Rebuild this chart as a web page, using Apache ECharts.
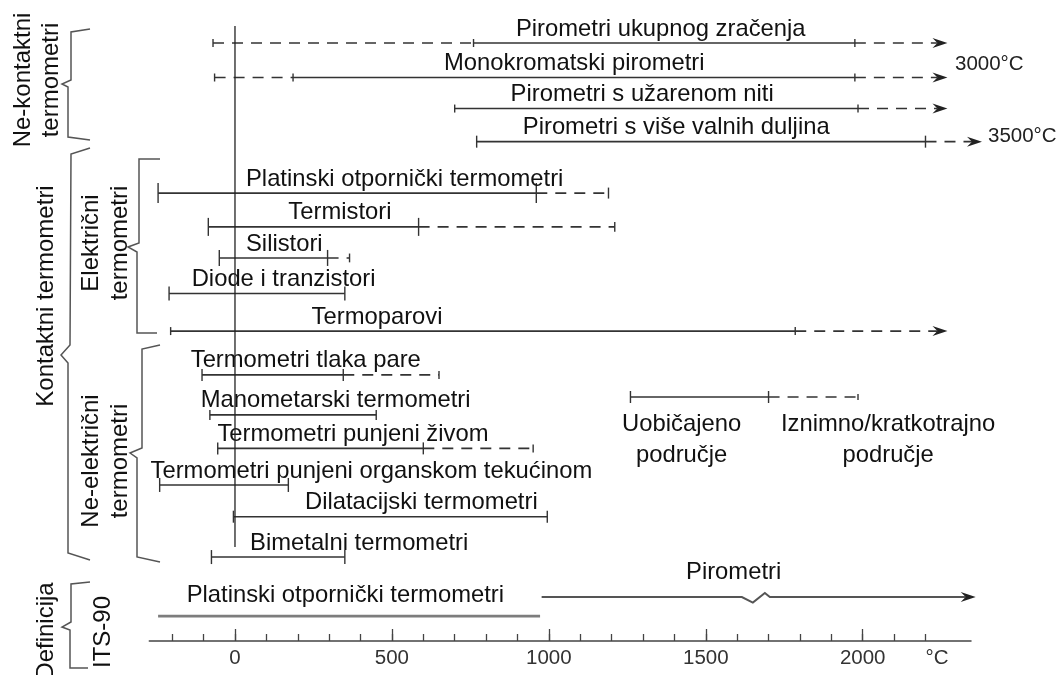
<!DOCTYPE html>
<html><head><meta charset="utf-8">
<script src="https://cdn.jsdelivr.net/npm/echarts@6/dist/echarts.min.js"></script>
<style>html,body{margin:0;padding:0;background:#fff}#c{width:1061px;height:675px}</style>
</head><body><div id="c"></div><script>
// ---------------- data ----------------
const rowNames = [
  'Pirometri ukupnog zračenja',
  'Monokromatski pirometri',
  'Pirometri s užarenom niti',
  'Pirometri s više valnih duljina',
  'Platinski otpornički termometri',
  'Termistori',
  'Silistori',
  'Diode i tranzistori',
  'Termoparovi',
  'Termometri tlaka pare',
  'Manometarski termometri',
  'Termometri punjeni živom',
  'Termometri punjeni organskom tekućinom',
  'Dilatacijski termometri',
  'Bimetalni termometri'
];
// usual range (°C)
const normalMin = [760, 185, 700, 770, -245, -85, -50, -210, -205, -105, -80, -55, -240, -5, -75];
const normalMax = [1975, 1975, 1985, 2200, 960, 585, 295, 350, 1785, 345, 450, 600, 170, 995, 350];
// exceptional / short-term range (°C), null = none
const exceptMin = [-70, -65, null, null, null, null, null, null, null, null, null, null, null, null, null];
const exceptMax = [2270, 2270, 2270, 2380, 1190, 1210, 365, null, 2270, 650, null, 950, null, null, null];
const openEnd   = [true, true, true, true, false, false, false, false, true, false, false, false, false, false, false];
const openEndLabels = ['3000°C', '3500°C'];

// legend sample (°C)
const legendRange = [1260, 1700, 1985];
const legendTexts = ['Uobičajeno\npodručje', 'Iznimno/kratkotrajno\npodručje'];

// ITS-90 definition
const itsNames = ['Platinski otpornički termometri', 'Pirometri'];
const itsPtRange = [-245, 972];
const itsPyroRange = [977, 2360];

// axis
const minorTicks = [-200,-100,0,100,200,300,400,500,600,700,800,900,1000,1100,1200,1300,1400,1500,1600,1700,1800,1900,2000,2100,2200];
const majorTicks = [0, 500, 1000, 1500, 2000];
const unitLabelAt = 2237;
const unitLabel = '°C';

// ---------------- layout (row slots, label anchors) ----------------
const rowPos   = [0, 1.0, 1.9, 2.86, 4.35, 5.33, 6.23, 7.26, 8.35, 9.62, 10.78, 11.75, 12.81, 13.73, 14.9];
const labelX   = [895, 666, 878, 917, 35, 170, 35, -138, 244, -141, -109, -56, -269, 223, 48];
const tickHalf = [4, 4, 4, 6, 10, 9, 8, 7, 4, 6, 5, 6, 7, 6, 7];
const legendPos = 10.26;
const legendTextX = [1423, 2081];
const itsPos = [16.61, 16.06];
const itsLabelX = [-154, 1437];
const zeroLine = [-0.49, 14.61];

const FONT = "'Liberation Sans', Arial, Helvetica, sans-serif";
const LINE = '#333';
const FS = 23.8;

function seg(p1, p2, dashed, color, w) {
  return {type: 'line', shape: {x1: p1[0], y1: p1[1], x2: p2[0], y2: p2[1]},
    style: {stroke: color || LINE, lineWidth: w || 1.6, lineDash: dashed ? [11, 8] : null}};
}
function tick(p, h) {
  return {type: 'line', shape: {x1: p[0], y1: p[1] - h, x2: p[0], y2: p[1] + h},
    style: {stroke: LINE, lineWidth: 1.4}};
}
function arrowHead(p, color) {
  return {type: 'polygon', shape: {points: [[p[0], p[1]], [p[0] - 15, p[1] - 5], [p[0] - 10, p[1]], [p[0] - 15, p[1] + 5]]},
    style: {fill: color || '#222'}};
}
function label(p, text, dy) {
  return {type: 'text', x: p[0], y: p[1] + dy,
    style: {text: text, fill: '#111', font: FS + 'px ' + FONT, align: 'left', verticalAlign: 'bottom'}};
}

const chart = echarts.init(document.getElementById('c'), null, {renderer: 'canvas'});

const option = {
  animation: false,
  backgroundColor: '#fff',
  grid: {left: 149.3, right: 90, top: 8.5, bottom: 34, containLabel: false, outerBoundsMode: 'none'},
  xAxis: [{
    type: 'value', min: -273, max: 2345, position: 'bottom',
    axisLine: {show: true, onZero: false, lineStyle: {color: '#444', width: 1.5}},
    axisTick: {show: true, inside: true, length: 7, customValues: minorTicks, lineStyle: {color: '#444', width: 1.3}},
    axisLabel: {show: true, customValues: majorTicks.concat([unitLabelAt]), margin: 7,
      formatter: v => (v === unitLabelAt ? unitLabel : String(v)),
      fontSize: 20.5, fontFamily: FONT, color: '#333'},
    splitLine: {show: false}
  }, {
    type: 'value', min: -273, max: 2345, position: 'bottom', offset: 0,
    axisLine: {show: false, onZero: false},
    axisTick: {show: true, inside: true, length: 12, customValues: majorTicks, lineStyle: {color: '#444', width: 1.3}},
    axisLabel: {show: false},
    splitLine: {show: false}
  }],
  yAxis: {type: 'value', inverse: true, min: -1, max: 17.333, show: false},
  series: [
    {
      type: 'line', xAxisIndex: 0, symbol: 'none', silent: true,
      data: [[0, zeroLine[0]], [0, zeroLine[1]]],
      lineStyle: {color: '#222', width: 1.3}
    },
    {
      type: 'custom', xAxisIndex: 0, clip: false, silent: true,
      data: rowNames.map((n, i) => [normalMin[i], rowPos[i], i]),
      renderItem: function (params, api) {
        const i = api.value(2);
        const y = rowPos[i];
        const c = v => api.coord([v, y]);
        const h = tickHalf[i];
        const ch = [];
        if (exceptMin[i] != null) {
          ch.push(seg(c(exceptMin[i]), c(normalMin[i]), true));
          ch.push(tick(c(exceptMin[i]), h));
        }
        ch.push(seg(c(normalMin[i]), c(normalMax[i]), false));
        ch.push(tick(c(normalMin[i]), h));
        ch.push(tick(c(normalMax[i]), h));
        if (exceptMax[i] != null) {
          const e = c(exceptMax[i]);
          if (openEnd[i]) {
            ch.push(seg(c(normalMax[i]), [e[0] - 10, e[1]], true));
            ch.push(arrowHead(e));
          } else {
            ch.push(seg(c(normalMax[i]), e, true));
            ch.push(tick(e, Math.max(4, h * 0.55)));
          }
        }
        ch.push(label(c(labelX[i]), rowNames[i], -2));
        return {type: 'group', children: ch};
      }
    },
    {
      // legend sample
      type: 'custom', xAxisIndex: 0, clip: false, silent: true,
      data: [[legendRange[0], legendPos]],
      renderItem: function (params, api) {
        const c = v => api.coord([v, legendPos]);
        const ch = [
          seg(c(legendRange[0]), c(legendRange[1]), false),
          tick(c(legendRange[0]), 6), tick(c(legendRange[1]), 6),
          seg(c(legendRange[1]), c(legendRange[2]), true),
          tick(c(legendRange[2]), 3)
        ];
        legendTexts.forEach((t, k) => {
          const p = c(legendTextX[k]);
          ch.push({type: 'text', x: p[0], y: p[1] + 12,
            style: {text: t, fill: '#111', font: FS + 'px ' + FONT, align: 'center', verticalAlign: 'top', lineHeight: 31}});
        });
        return {type: 'group', children: ch};
      }
    },
    {
      // ITS-90
      type: 'custom', xAxisIndex: 0, clip: false, silent: true,
      data: [[itsPtRange[0], itsPos[0]]],
      renderItem: function (params, api) {
        const a = itsPtRange.map(v => api.coord([v, itsPos[0]]));
        const py = itsPyroRange.map(v => api.coord([v, itsPos[1]]));
        const y = py[0][1];
        const bx = api.coord([1650, itsPos[1]])[0];
        const ch = [
          seg(a[0], a[1], false, '#7d7d7d', 2.8),
          {type: 'polyline', shape: {points: [py[0], [bx - 11, y], [bx, y + 5.5], [bx + 12, y - 4], [bx + 17, y], [py[1][0] - 10, y]]},
            style: {stroke: '#555', lineWidth: 2, fill: null}},
          arrowHead(py[1], '#222'),
          label([api.coord([itsLabelX[0], itsPos[0]])[0], a[0][1]], itsNames[0], -9),
          label([api.coord([itsLabelX[1], itsPos[1]])[0], y], itsNames[1], -12.5)
        ];
        return {type: 'group', children: ch};
      }
    }
  ],
  graphic: [
    // braces
    {type: 'polyline', shape: {points: [[90,29],[71,32],[71,80],[62,84],[68,87],[68,137],[90,140]]}, style: {stroke: '#555', lineWidth: 1.5, fill: null}},
    {type: 'polyline', shape: {points: [[90,148],[71,154],[70,345],[61,355],[68,363],[68,553],[90,560]]}, style: {stroke: '#555', lineWidth: 1.5, fill: null}},
    {type: 'polyline', shape: {points: [[160,159],[139,159],[139,243],[128,247],[137,252],[137,333],[157,333]]}, style: {stroke: '#555', lineWidth: 1.5, fill: null}},
    {type: 'polyline', shape: {points: [[160,345],[142,349],[142,448],[130,453],[137,458],[137,557],[160,562]]}, style: {stroke: '#555', lineWidth: 1.5, fill: null}},
    {type: 'polyline', shape: {points: [[90,582],[71,584],[71,622],[62,627],[70,630],[70,668],[88,668]]}, style: {stroke: '#555', lineWidth: 1.5, fill: null}},
    // group labels (rotated)
    {type: 'text', x: 37, y: 80, rotation: Math.PI / 2, style: {text: 'Ne-kontaktni\ntermometri', font: '24px ' + FONT, fill: '#111', align: 'center', verticalAlign: 'middle', lineHeight: 28}},
    {type: 'text', x: 46, y: 296, rotation: Math.PI / 2, style: {text: 'Kontaktni termometri', font: '24px ' + FONT, fill: '#111', align: 'center', verticalAlign: 'middle'}},
    {type: 'text', x: 105.5, y: 243, rotation: Math.PI / 2, style: {text: 'Električni\ntermometri', font: '24px ' + FONT, fill: '#111', align: 'center', verticalAlign: 'middle', lineHeight: 29}},
    {type: 'text', x: 105.5, y: 461, rotation: Math.PI / 2, style: {text: 'Ne-električni\ntermometri', font: '24px ' + FONT, fill: '#111', align: 'center', verticalAlign: 'middle', lineHeight: 29}},
    {type: 'text', x: 46, y: 631, rotation: Math.PI / 2, style: {text: 'Definicija', font: '24px ' + FONT, fill: '#111', align: 'center', verticalAlign: 'middle'}},
    {type: 'text', x: 103, y: 632, rotation: Math.PI / 2, style: {text: 'ITS-90', font: '24px ' + FONT, fill: '#111', align: 'center', verticalAlign: 'middle'}},
    // open-end temperatures
    {type: 'text', x: 955, y: 64, style: {text: openEndLabels[0], font: '20.5px ' + FONT, fill: '#222', align: 'left', verticalAlign: 'middle'}},
    {type: 'text', x: 988, y: 136, style: {text: openEndLabels[1], font: '20.5px ' + FONT, fill: '#222', align: 'left', verticalAlign: 'middle'}}
  ]
};
chart.setOption(option);
</script></body></html>
